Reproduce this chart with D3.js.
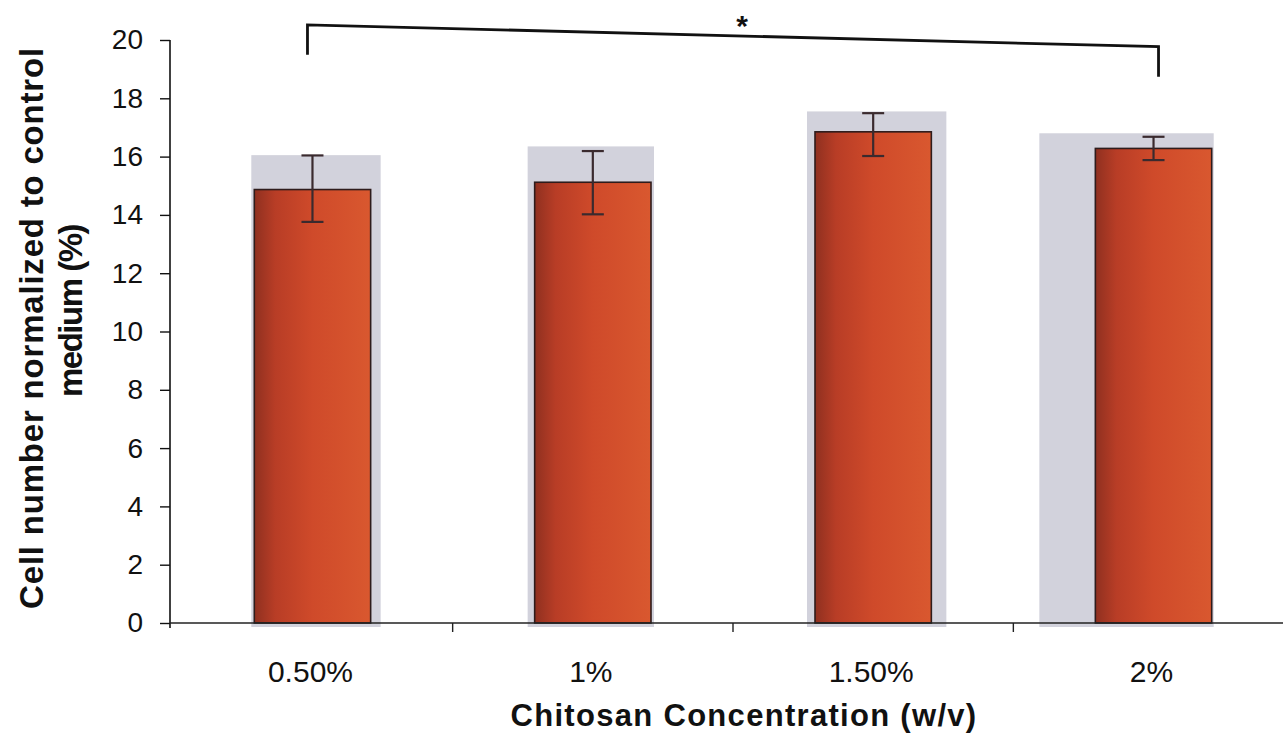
<!DOCTYPE html>
<html>
<head>
<meta charset="utf-8">
<script src="https://cdn.jsdelivr.net/npm/d3@7"></script>
<style>
  html, body { margin: 0; padding: 0; background: #fff; }
  svg { display: block; }
  text { font-family: "Liberation Sans", Arial, Helvetica, sans-serif; fill: #111; }
</style>
</head>
<body>
<svg id="chart" width="1283" height="754"></svg>
<script>
// ---- data ----
const categories = ["0.50%", "1%", "1.50%", "2%"];
const means      = [14.87, 15.12, 16.85, 16.28];
const errHigh    = [16.04, 16.19, 17.49, 16.68];
const errLow     = [13.76, 14.02, 16.02, 15.88];
const shadowTop  = [16.05, 16.35, 17.55, 16.8];
const yTicks     = [0, 2, 4, 6, 8, 10, 12, 14, 16, 18, 20];
const sigPair    = ["0.50%", "2%"];
const sigLevels  = [20.52, 19.77];
const sigLabel   = "*";
const yTitle     = ["Cell number normalized to control", "medium (%)"];
const xTitle     = "Chitosan Concentration (w/v)";

// ---- layout / style ----
const svg = d3.select("#chart");
const axisX = 170;
const x = d3.scaleBand().domain(categories).range([173, 1293]).paddingInner(0.585).paddingOuter(0.29);
const y = d3.scaleLinear().domain([0, 20]).range([623, 40]);
const shadowPadL = [3, 7, 8, 56];
const shadowPadR = [10, 3, 15, 2];

const defs = svg.append("defs");
const grad = defs.append("linearGradient").attr("id", "barGrad")
  .attr("x1", "0%").attr("x2", "100%").attr("y1", "0%").attr("y2", "0%");
grad.append("stop").attr("offset", "0%").attr("stop-color", "#8f3020");
grad.append("stop").attr("offset", "18%").attr("stop-color", "#b83d26");
grad.append("stop").attr("offset", "50%").attr("stop-color", "#cf4a2a");
grad.append("stop").attr("offset", "100%").attr("stop-color", "#d9582f");

const idx = categories.map((c, i) => i);
const bw = x.bandwidth();

// grey shadows behind bars
svg.append("g").selectAll("rect").data(idx).join("rect")
  .attr("x", i => x(categories[i]) - shadowPadL[i])
  .attr("width", i => bw + shadowPadL[i] + shadowPadR[i])
  .attr("y", i => y(shadowTop[i]))
  .attr("height", i => y(0) + 4 - y(shadowTop[i]))
  .attr("fill", "#d2d2dc");

// bars
svg.append("g").selectAll("rect").data(idx).join("rect")
  .attr("x", i => x(categories[i]))
  .attr("width", bw)
  .attr("y", i => y(means[i]))
  .attr("height", i => y(0) - y(means[i]))
  .attr("fill", "url(#barGrad)")
  .attr("stroke", "#2e1c1c").attr("stroke-width", 1.6);

// error bars
const eg = svg.append("g").attr("stroke", "#3a2a2e").attr("stroke-width", 2.2).attr("fill", "none");
const cx = i => x(categories[i]) + bw / 2;
eg.selectAll("line.v").data(idx).join("line").attr("class", "v")
  .attr("x1", cx).attr("x2", cx)
  .attr("y1", i => y(errHigh[i])).attr("y2", i => y(errLow[i]));
eg.selectAll("line.t").data(idx).join("line").attr("class", "t")
  .attr("x1", i => cx(i) - 11).attr("x2", i => cx(i) + 11)
  .attr("y1", i => y(errHigh[i])).attr("y2", i => y(errHigh[i]));
eg.selectAll("line.b").data(idx).join("line").attr("class", "b")
  .attr("x1", i => cx(i) - 11).attr("x2", i => cx(i) + 11)
  .attr("y1", i => y(errLow[i])).attr("y2", i => y(errLow[i]));

// y axis
const yAxis = d3.axisLeft(y).tickValues(yTicks).tickSize(10).tickPadding(17).tickSizeOuter(0);
const gy = svg.append("g").attr("transform", `translate(${axisX},0)`).call(yAxis);
gy.select(".domain").attr("d", `M0,${y(20)}V${y(0) + 5}`).attr("stroke", "#111").attr("stroke-width", 1.6);
gy.selectAll(".tick line").attr("stroke", "#111").attr("stroke-width", 1.4);
gy.selectAll(".tick text").attr("font-size", 28).attr("fill", "#111")
  .style("font-family", "'Liberation Sans', Arial, sans-serif");

// x axis
const gx = svg.append("g").attr("transform", `translate(0,${y(0)})`);
gx.append("line").attr("x1", axisX).attr("x2", 1283).attr("y1", 0).attr("y2", 0)
  .attr("stroke", "#222").attr("stroke-width", 1.5);
const boundaries = categories.slice(1).map(c => x(c) - x.step() * x.paddingInner() / 2);
gx.selectAll("line.tk").data(boundaries).join("line").attr("class", "tk")
  .attr("x1", d => d).attr("x2", d => d).attr("y1", 0).attr("y2", 9)
  .attr("stroke", "#222").attr("stroke-width", 1.4);
gx.selectAll("text").data(categories).join("text")
  .attr("x", c => x(c) + bw / 2 - 2).attr("y", 59)
  .attr("text-anchor", "middle").attr("font-size", 30).text(c => c);

// axis titles
svg.append("text").attr("x", 744).attr("y", 726).attr("text-anchor", "middle")
  .attr("font-size", 31).attr("font-weight", "bold").attr("letter-spacing", 1.3).text(xTitle);
const yt = svg.append("g");
yt.append("text").attr("transform", "translate(43,328) rotate(-90)").attr("text-anchor", "middle")
  .attr("font-size", 33).attr("font-weight", "bold").attr("letter-spacing", 0.8).text(yTitle[0]);
yt.append("text").attr("transform", "translate(82,311) rotate(-90)").attr("text-anchor", "middle")
  .attr("font-size", 33).attr("font-weight", "bold").attr("letter-spacing", -1.5).text(yTitle[1]);

// significance bracket
const xa = x(sigPair[0]) + bw / 2 - 5, xb = x(sigPair[1]) + bw / 2 + 5;
const ya = y(sigLevels[0]), yb = y(sigLevels[1]);
svg.append("path")
  .attr("d", `M${xa},${ya + 30}V${ya}L${xb},${yb}V${yb + 30}`)
  .attr("fill", "none").attr("stroke", "#111").attr("stroke-width", 2.8);
svg.append("text").attr("x", (xa + xb) / 2 + 9).attr("y", (ya + yb) / 2)
  .attr("text-anchor", "middle").attr("font-size", 30).attr("font-weight", "bold").text(sigLabel);
</script>
</body>
</html>
